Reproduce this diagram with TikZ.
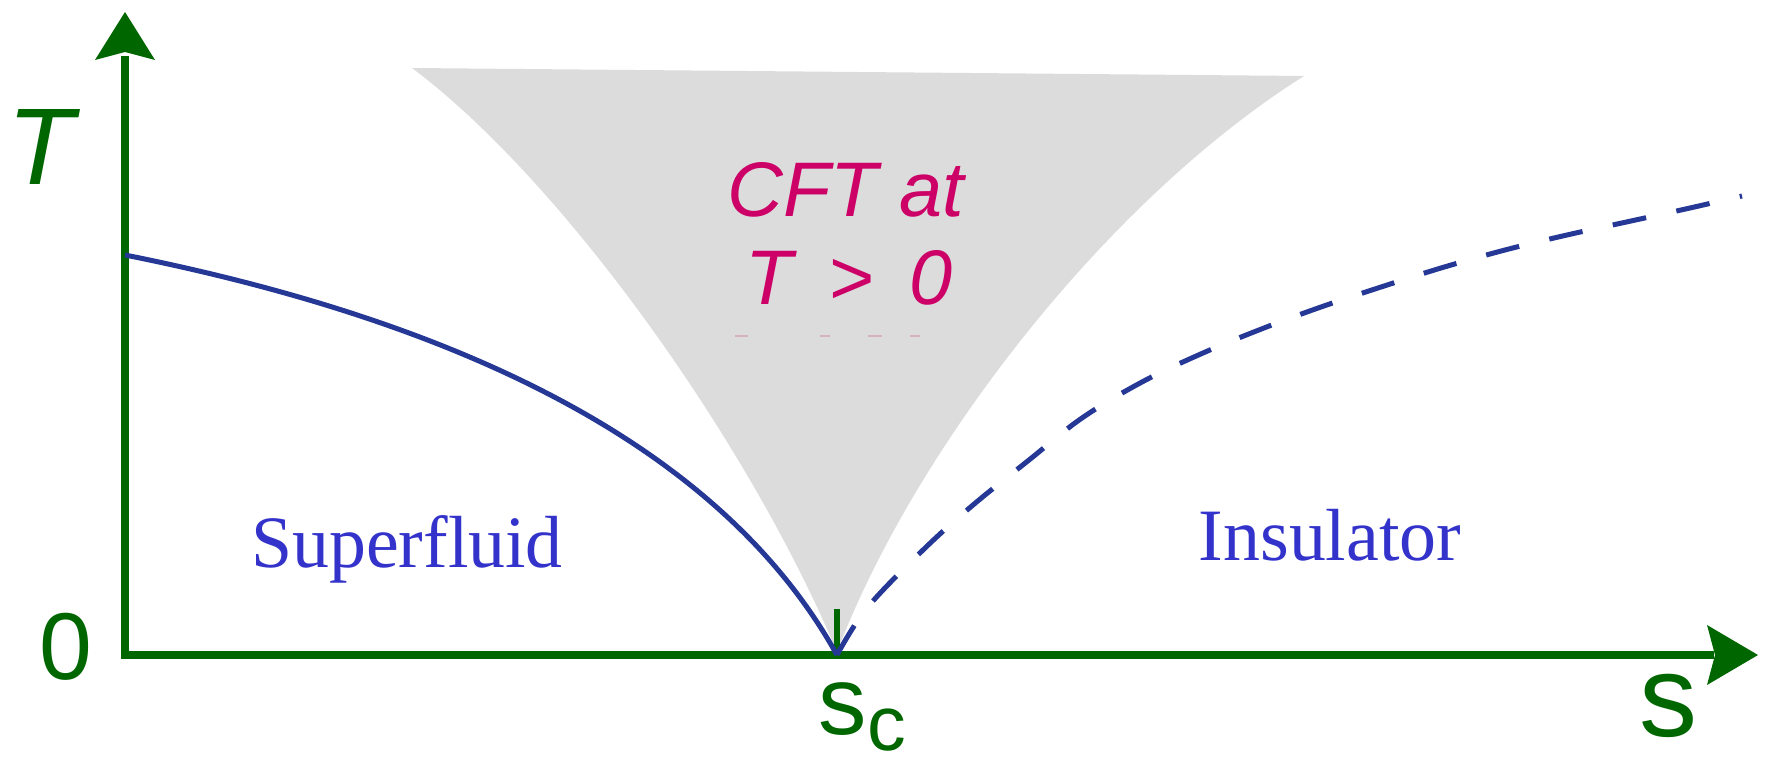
\documentclass[tikz,border=0pt]{standalone}
\usepackage{fontspec}
\setmainfont{Liberation Serif}
\setsansfont{Liberation Sans}
\usetikzlibrary{calc}
\definecolor{axgreen}{RGB}{0,102,0}
\definecolor{curveblue}{RGB}{38,56,150}
\definecolor{labelblue}{RGB}{51,51,204}
\definecolor{cftmag}{RGB}{204,0,102}
\definecolor{fangray}{RGB}{220,220,220}
\definecolor{faintpink}{RGB}{214,178,188}
\begin{document}
\begin{tikzpicture}[x=0.01cm, y=-0.01cm,
  axis/.style={draw=axgreen, line width=0.08cm},
  tipfill/.style={fill=axgreen},
  phase/.style={draw=curveblue, line width=0.05cm, line join=round},
  region/.style={font=\fontsize{21}{25}\selectfont\rmfamily, text=labelblue, inner sep=0pt, anchor=base},
  cft/.style={font=\fontsize{22}{26}\selectfont\sffamily\itshape, text=cftmag, inner sep=0pt, anchor=base},
  axlabel/.style={text=axgreen, inner sep=0pt, anchor=base}
]
\useasboundingbox[fill=white] (0,0) rectangle (1767,758);

% key points
\coordinate (origin) at (125,655);
\coordinate (ytip) at (125,12);
\coordinate (xtip) at (1758,655);
\coordinate (sc) at (837,655);
\coordinate (sctop) at (837,609);
\coordinate (tc) at (125,255);
\coordinate (fanbot) at (837,652);
\coordinate (fanleft) at (412,68);
\coordinate (fanright) at (1304,76);

% quantum critical fan
\fill[fangray] (fanbot) .. controls (749,442) and (562,180) .. (fanleft)
  -- (fanright) .. controls (1104,202) and (913,452) .. (fanbot) -- cycle;

% faint marks
\draw[faintpink, line width=0.025cm] (735,336) -- (748,336);
\draw[faintpink, line width=0.025cm] (820,336) -- (830,336);
\draw[faintpink, line width=0.025cm] (868,336) -- (882,336);
\draw[faintpink, line width=0.025cm] (910,336) -- (920,336);

% axes
\draw[axis] ($(ytip)+(0,44)$) -- (origin) -- ($(xtip)+(-44,0)$);
\fill[tipfill] (ytip) -- ++(30,48) -- ++(-30,-8) -- ++(-30,8) -- cycle;
\fill[tipfill] (xtip) -- ++(-51,-30) -- ++(8,30) -- ++(-8,30) -- cycle;
\draw[axis, line width=0.065cm] (sctop) -- (sc);

% phase boundary
\draw[phase] (tc) .. controls (405,311) and (707,421) .. (sc);
% crossover
\draw[phase, dash pattern=on 9.7pt off 8.8pt] plot[smooth, tension=0.6] coordinates {(837,655) (867,608) (923,550) (973,505) (1029,460) (1082,418) (1142,382) (1203,353) (1264,328) (1321,307) (1378,288) (1441,268) (1505,250) (1567,235) (1631,221) (1690,208) (1742,196)};

% labels
\node[axlabel, font=\fontsize{31}{31}\selectfont\sffamily\itshape] (Tlab) at (41,185) {T};
\node[axlabel, font=\fontsize{27}{27}\selectfont\sffamily] (zero) at (66,679) {0};
\node[axlabel, font=\fontsize{33}{33}\selectfont\sffamily] (slab) at (1668,736) {s};
\node[axlabel, anchor=base west, font=\fontsize{27.5}{27.5}\selectfont\sffamily] (sclab) at (818,734) {s\raisebox{-0.16cm}{\fontsize{22}{22}\selectfont c}};

\node[cft] (cft1) at (846,217) {CFT at};
\node[cft] (cft2) at (849,305) {T\ \kern4pt>\ \kern4pt0};

\node[region] (sf) at (407,567) {Superfluid};
\node[region] (ins) at (1330,560) {Insulator};
\end{tikzpicture}
\end{document}
